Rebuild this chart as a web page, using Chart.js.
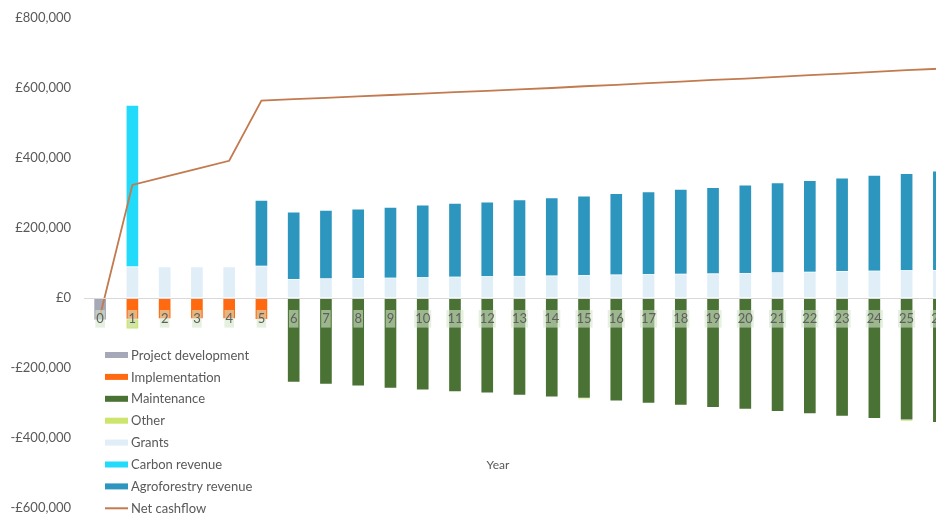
<!DOCTYPE html>
<html>
<head>
<meta charset="utf-8">
<script src="https://cdn.jsdelivr.net/npm/chart.js@4.4.1/dist/chart.umd.min.js"></script>
<style>
  html, body { margin: 0; padding: 0; background: #fff; overflow: hidden; }
  #wrap { position: relative; width: 970px; height: 515px; }
</style>
</head>
<body>
<div id="wrap"><canvas id="cashflow"></canvas></div>
<script>
// years 0..26
var years = [];
for (var y = 0; y <= 26; y++) years.push(String(y));

// costs (negative) and income (positive), in £
var projectDev = [-63000];
var implementation = [null, -61000, -60000, -60000, -60000, -62000];
var maintenance = [null, null, null, null, null, null,
  -241000, -247000, -252000, -258000, -263000, -268000, -272000, -278000, -283000, -287000,
  -295000, -301000, -307000, -313000, -318000, -325000, -331000, -338000, -345000, -349000, -356000];
var other = [null, -28000, null, null, null, null, null, null, null, null, null, null, null, null, null, -3000,
  null, null, null, null, null, null, null, null, null, -3000, null];
var grants = [null, 90000, 90000, 90000, 90000, 92000,
  54000, 56000, 57000, 58000, 59000, 61000, 62000, 63000, 64000, 65000,
  67000, 68000, 69000, 70000, 71000, 73000, 75000, 77000, 78000, 79000, 80000];
var carbonRevenue = [null, 461000];
var agroRevenue = [null, null, null, null, null, 188000,
  192000, 195000, 198000, 202000, 207000, 210000, 213000, 218000, 223000, 227000,
  232000, 236000, 242000, 246000, 252000, 257000, 261000, 266000, 273000, 277000, 283000];
var netCashflow = [-50000, 323000, 346000, 369000, 392000, 564000,
  568000, 572000, 576000, 580000, 584000, 588000, 592000, 596000, 600000, 605000,
  609000, 614000, 618000, 623000, 627000, 632000, 637000, 641000, 646000, 651000, 655000];

var yTicks = [-600000, -400000, -200000, 0, 200000, 400000, 600000, 800000];

var FONT = 'Lato, "Noto Sans", sans-serif';
var TEXT = '#595959';

function money(v) {
  return (v < 0 ? '-' : '') + '£' + Math.abs(v).toLocaleString('en-GB');
}

function bar(label, values, color) {
  return {
    type: 'bar',
    label: label,
    data: values,
    backgroundColor: color,
    borderColor: 'rgba(255,255,255,0.35)',
    borderWidth: 1,
    barThickness: 13,
    stack: 'flows',
    order: 2
  };
}

// vertical legend sitting inside the plot, lower left
var sideLegend = {
  id: 'sideLegend',
  afterDraw: function (chart) {
    var ctx = chart.ctx;
    var x = 105, top = 355, gap = 21.9;
    ctx.save();
    ctx.font = '13px ' + FONT;
    ctx.textBaseline = 'middle';
    ctx.textAlign = 'left';
    chart.data.datasets.forEach(function (ds, i) {
      var cy = top + i * gap;
      if (ds.type === 'line') {
        ctx.strokeStyle = ds.borderColor;
        ctx.lineWidth = 2;
        ctx.beginPath();
        ctx.moveTo(x, cy);
        ctx.lineTo(x + 23, cy);
        ctx.stroke();
      } else {
        ctx.fillStyle = ds.backgroundColor;
        ctx.fillRect(x, cy - 3, 23, 6);
      }
      ctx.fillStyle = TEXT;
      ctx.fillText(ds.label, x + 26, cy + 0.5);
    });
    // axis title
    ctx.textAlign = 'center';
    ctx.font = '12px ' + FONT;
    ctx.fillText('Year', 498, 465);
    ctx.restore();
  }
};

new Chart(document.getElementById('cashflow'), {
  data: {
    labels: years,
    datasets: [
      bar('Project development', projectDev, '#A5A8B6'),
      bar('Implementation', implementation, '#FF6A10'),
      bar('Maintenance', maintenance, '#4A7234'),
      bar('Other', other, '#CCE56C'),
      bar('Grants', grants, '#DFEEF7'),
      bar('Carbon revenue', carbonRevenue, '#22DAFA'),
      bar('Agroforestry revenue', agroRevenue, '#2C96BE'),
      {
        type: 'line',
        label: 'Net cashflow',
        data: netCashflow,
        borderColor: '#C27A4E',
        borderWidth: 1.8,
        pointRadius: 0,
        tension: 0,
        stack: 'net',
        order: 1
      }
    ]
  },
  options: {
    responsive: true,
    maintainAspectRatio: false,
    animation: false,
    layout: { padding: { left: 9, right: 15, top: 18, bottom: 7 } },
    plugins: {
      legend: { display: false },
      tooltip: { enabled: false }
    },
    scales: {
      x: {
        stacked: true,
        position: { y: 0 },
        afterFit: function (scale) { scale.height = 0; },
        grid: { display: false, drawTicks: false },
        // zero line and year labels sit on top of the bars
        border: { display: true, color: '#D9D9D9', width: 1, z: 1 },
        ticks: {
          z: 1,
          color: '#5E5E5E',
          font: { family: FONT, size: 13 },
          padding: 13,
          maxRotation: 0,
          autoSkip: false,
          showLabelBackdrop: true,
          backdropColor: 'rgba(212,230,202,0.6)',
          backdropPadding: { left: 1, right: 1, top: 1, bottom: 1 }
        }
      },
      y: {
        stacked: true,
        min: -600000,
        max: 800000,
        afterBuildTicks: function (scale) {
          scale.ticks = yTicks.map(function (v) { return { value: v }; });
        },
        afterFit: function (scale) { scale.width = 75; },
        // transparent tick marks give the gap between labels and plot
        grid: {
          display: true,
          drawOnChartArea: false,
          drawTicks: true,
          tickLength: 13,
          tickColor: 'transparent',
          color: 'transparent'
        },
        border: { display: false },
        ticks: {
          color: TEXT,
          font: { family: FONT, size: 13, lineHeight: 1 },
          padding: 0,
          callback: function (v) { return money(v); }
        }
      }
    }
  },
  plugins: [sideLegend]
});
</script>
</body>
</html>
